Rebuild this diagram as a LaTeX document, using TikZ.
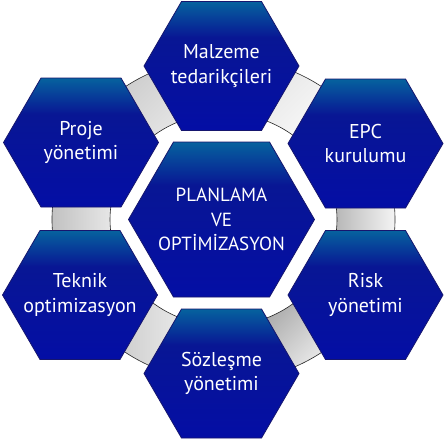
\documentclass[tikz,border=0pt]{standalone}
\usepackage{fontspec}
\setmainfont{PT Sans}
\definecolor{hextop}{RGB}{6,98,158}
\definecolor{hexmid}{RGB}{8,22,148}
\definecolor{hexbot}{RGB}{4,14,165}
\definecolor{hexline}{RGB}{22,22,110}
\pgfdeclareverticalshading{hexshade}{100bp}{color(0bp)=(hexbot); color(25bp)=(hexbot); color(61bp)=(hexmid); color(75bp)=(hextop); color(100bp)=(hextop)}
\newcommand\ringseg[3]{%
  \path[ring,#3] ([shift={(223.5,219.5)}]#1:171.5 and 162) arc[start angle=#1, end angle=#2, x radius=171.5, y radius=162]
    -- ([shift={(223.5,219.5)}]#2:113.5 and 106.5) arc[start angle=#2, end angle=#1, x radius=113.5, y radius=106.5] -- cycle;}
\newcommand\hexagon[8]{%
  \path[hexa] (#2-#4,#3) -- (#2-#5,#3-#6) -- (#2+#5,#3-#6) -- (#2+#4,#3) -- (#2+#5,#3+#6) -- (#2-#5,#3+#6) -- cycle;
  \node[lbl,#8] (#1) at (#2,#3) {#7};}
\begin{document}
\begin{tikzpicture}[x=1pt,y=-1pt,
  hexa/.style={shading=hexshade, draw=hexline, line width=0.8pt},
  lbl/.style={text=white, align=center, font=\fontsize{20}{24.5}\selectfont, inner sep=0pt},
  ring/.style={draw=black!85, line width=0.6pt}]
\useasboundingbox[fill=white] (0,0) rectangle (444,440);
% grey ring connectors
\ringseg{-80}{-40}{top color=black!11, bottom color=white, shading angle=45}
\ringseg{-20}{20}{top color=black!30, bottom color=black!3, shading angle=90}
\ringseg{40}{80}{top color=black!38, bottom color=black!2, shading angle=45}
\ringseg{100}{140}{top color=black!24, bottom color=black!5, shading angle=90}
\ringseg{160}{200}{top color=black!25, bottom color=black!8, shading angle=90}
\ringseg{220}{260}{top color=black!22, bottom color=black!8, shading angle=45}
% hexagons
\hexagon{malz}{221.5}{66}{77.5}{40}{64.5}{Malzeme\\tedarikçileri}{}
\hexagon{epc}{365.5}{143.5}{77.5}{40}{64.5}{EPC\\kurulumu}{}
\hexagon{risk}{365.5}{295}{77.5}{40}{64.5}{Risk\\yönetimi}{}
\hexagon{soz}{221.5}{373.5}{77.5}{40}{64.5}{Sözleşme\\yönetimi}{}
\hexagon{tek}{80}{295}{77.5}{40}{64.5}{Teknik\\optimizasyon}{}
\hexagon{proje}{81}{142.5}{77.5}{40}{64.5}{Proje\\yönetimi}{}
\hexagon{plan}{221.5}{219.5}{93}{48}{77.5}{PLANLAMA\\VE\\OPTİMİZASYON}{font=\fontsize{19}{24.5}\selectfont}
\end{tikzpicture}
\end{document}
